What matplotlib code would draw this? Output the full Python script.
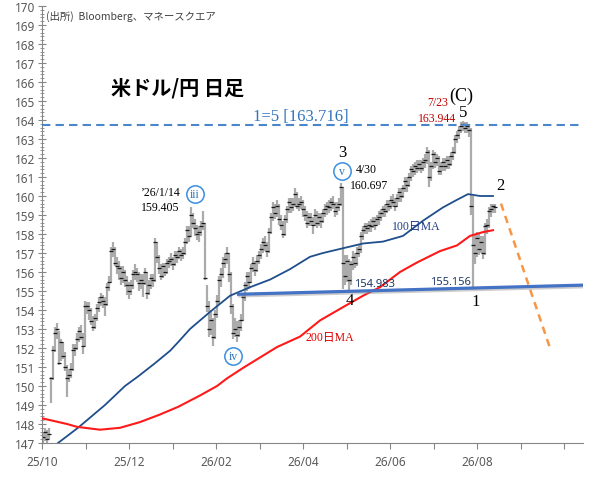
import numpy as np
import matplotlib
matplotlib.use('Agg')
import matplotlib.pyplot as plt
import matplotlib.patheffects as pe
from matplotlib.ticker import FixedLocator, MultipleLocator

# ---------------- data (daily bars, one per trading day) ----------------
close = [
147.3,147.6,147.2,147.5,150.4,151.9,152.8,153.0,151.2,152.3,
151.6,151.0,150.4,150.6,150.9,151.9,152.0,152.5,152.9,152.6,
152.1,154.2,154.2,154.0,153.4,153.1,153.6,154.1,154.4,154.7,
154.5,154.3,155.2,155.5,157.1,157.2,156.5,156.3,156.2,155.7,
156.0,155.6,155.3,155.0,155.3,155.9,156.0,155.9,155.4,155.6,
155.4,156.0,154.9,155.3,155.7,155.6,157.6,156.8,156.2,155.8,
156.3,156.0,156.5,156.6,156.7,156.4,156.9,156.8,157.1,156.9,
157.0,157.6,158.2,157.9,159.0,158.6,158.3,158.0,158.1,158.4,
158.6,155.7,154.2,153.0,153.5,152.6,153.8,154.5,155.6,155.9,
156.5,156.7,157.0,155.9,154.2,152.8,153.0,152.7,153.1,153.5,
154.7,155.3,155.8,155.5,156.2,156.5,156.1,156.6,156.9,157.2,
157.6,157.4,157.1,158.1,158.9,159.4,159.1,159.5,158.8,158.5,
158.0,158.8,159.3,159.7,159.4,159.6,160.1,159.5,159.6,159.7,
159.3,159.0,158.6,158.9,158.7,158.5,159.0,158.6,158.9,158.7,
159.1,159.3,159.5,159.4,159.7,159.6,159.2,159.4,159.6,160.5,
156.5,155.8,156.6,155.6,156.4,156.8,156.5,157.0,157.2,157.9,
158.2,158.4,158.3,158.5,158.4,158.7,158.5,158.8,158.9,159.1,
159.3,159.2,159.6,159.5,159.8,159.7,159.5,159.9,160.2,160.0,
160.4,160.8,160.6,161.0,161.4,161.3,161.6,161.5,161.7,161.5,
161.8,161.9,162.3,161.0,161.6,162.2,161.8,162.0,161.3,161.6,
161.8,161.6,161.9,161.7,162.1,162.3,163.0,163.2,163.5,163.7,
163.8,163.6,163.7,163.5,159.5,157.4,157.0,157.8,157.2,157.6,
157.0,158.4,158.5,159.2,159.3,159.5,159.4]

high = [
147.6,147.8,147.7,147.8,150.5,152.1,153.1,153.3,152.9,152.5,
152.3,151.8,151.1,150.9,151.2,152.2,152.2,152.8,153.1,153.2,
152.8,154.5,154.4,154.4,154.1,153.7,153.8,154.3,154.7,154.9,
154.8,154.7,155.4,155.8,157.3,157.6,157.3,156.8,156.6,156.3,
156.3,156.1,155.8,155.5,155.6,156.1,156.4,156.2,156.0,155.9,
155.9,156.2,156.0,155.6,155.9,155.9,157.8,157.6,156.9,156.4,
156.5,156.5,156.7,156.8,157.0,156.8,157.1,157.1,157.3,157.2,
157.3,157.8,158.4,158.4,159.405,159.1,158.8,158.5,158.4,158.7,
159.2,158.6,155.3,154.5,154.0,153.6,154.0,154.8,155.8,156.2,
156.8,157.0,157.3,157.0,156.0,154.3,153.6,153.4,153.5,153.8,
154.9,155.5,156.0,156.0,156.4,156.8,156.6,156.9,157.1,157.5,
157.8,157.9,157.6,158.3,159.1,159.7,159.6,159.8,159.6,159.0,
158.7,159.0,159.5,159.9,159.9,159.9,160.4,160.2,159.9,160.0,
159.8,159.5,159.2,159.1,159.1,158.9,159.3,159.2,159.1,159.1,
159.3,159.6,159.7,159.8,159.9,160.0,159.7,159.7,159.9,160.697,
160.5,156.9,156.9,156.7,156.6,157.1,157.0,157.3,157.5,158.1,
158.4,158.6,158.6,158.7,158.8,158.9,158.9,159.0,159.2,159.3,
159.5,159.6,159.8,159.8,160.0,160.1,159.9,160.1,160.4,160.4,
160.6,161.0,161.0,161.2,161.6,161.7,161.8,161.9,161.9,161.9,
162.0,162.2,162.6,162.4,161.8,162.4,162.3,162.2,162.1,161.8,
162.0,162.0,162.1,162.1,162.3,162.6,163.2,163.4,163.7,163.9,
163.944,163.9,163.9,163.8,163.6,160.0,158.0,158.1,158.0,157.9,
157.9,158.6,158.8,159.4,159.6,159.6,159.6]

low = [
147.0,147.1,147.0,147.2,149.1,150.3,151.8,152.5,151.1,151.3,
151.4,150.8,149.4,150.2,150.4,150.8,151.6,151.9,152.3,152.4,
151.7,152.1,153.8,153.5,153.2,152.9,153.0,153.4,153.9,154.2,
154.1,153.7,154.2,155.0,155.4,156.8,156.3,155.9,155.6,155.3,
155.4,155.2,154.8,154.6,154.8,155.1,155.6,155.5,155.0,155.1,
154.7,155.3,154.6,154.8,155.1,155.2,155.5,156.5,155.9,155.6,
155.7,155.8,155.9,156.2,156.3,156.1,156.3,156.5,156.7,156.6,
156.7,156.9,157.5,157.6,157.9,158.3,157.9,157.7,157.6,157.9,
158.2,155.6,153.9,152.6,152.7,152.1,152.5,153.6,154.3,155.2,
155.7,156.2,156.4,155.5,153.8,152.5,152.6,152.3,152.6,152.9,
153.4,154.5,155.0,155.1,155.4,156.0,155.8,156.0,156.4,156.7,
157.0,157.1,156.8,157.0,158.0,158.7,158.8,158.9,158.5,158.2,
157.8,157.9,158.6,159.1,159.1,159.2,159.4,159.3,159.2,159.3,
158.9,158.7,158.3,158.4,158.4,158.0,158.4,158.3,158.4,158.3,
158.6,158.9,159.0,159.1,159.2,159.3,158.9,159.0,159.2,159.5,
155.1,155.3,155.5,154.983,155.3,156.1,156.2,156.3,156.8,157.0,
157.7,158.0,158.0,158.1,158.1,158.3,158.2,158.4,158.5,158.7,
158.9,158.9,159.1,159.2,159.3,159.4,159.2,159.4,159.7,159.7,
159.9,160.2,160.2,160.5,160.8,161.0,161.1,161.2,161.3,161.2,
161.3,161.5,161.7,160.5,160.8,161.4,161.5,161.6,161.1,161.1,
161.3,161.3,161.4,161.4,161.6,161.9,162.2,162.8,163.0,163.3,
163.4,163.3,163.3,163.1,159.0,155.156,156.4,156.8,156.9,157.0,
156.7,156.9,158.0,158.3,158.9,159.1,159.1]

# moving averages (sampled along the bar index)
ma100_x = [-0.5, 7.5, 17.5, 31, 41, 47.5, 56, 63.5, 67.5, 73.5, 78.5, 83.5, 93.5,
           103.5, 113.5, 123.5, 133.5, 140, 150, 160, 170, 180, 190, 200, 207,
           212.5, 218.5, 225]
ma100 = [146.3, 147.0, 147.8, 149.0, 150.0, 150.5, 151.2, 151.85, 152.3, 153.0,
         153.45, 153.9, 154.75, 155.2, 155.6, 156.15, 156.8, 157.0, 157.25, 157.5,
         157.6, 157.9, 158.7, 159.4, 159.8, 160.1, 160.0, 160.0]
ma200_x = [-0.5, 12, 17, 28.5, 38.5, 48.5, 58.5, 67.5, 78.5, 87, 92, 100, 108.5,
           117, 128.5, 138.5, 150, 160, 168.5, 178.5, 187, 198.5, 207, 213.5, 220, 225]
ma200 = [148.3, 148.0, 147.85, 147.7, 147.8, 148.1, 148.5, 148.9, 149.5, 150.0,
         150.4, 150.95, 151.5, 152.05, 152.6, 153.45, 154.15, 154.75, 155.2, 156.0,
         156.5, 157.1, 157.4, 157.9, 158.1, 158.2]

month_labels = ['25/10', '', '25/12', '', '26/02', '', '26/04', '', '26/06', '',
                '26/08', '', '']
target_level = 163.716
wave4_idx, wave4_low = 153, 154.983
wave1_idx, wave1_low = 215, 155.156
proj_x = [229, 253.5]
proj_y = [159.6, 152.0]

# ---------------- figure ----------------
W, H = 604, 481
fig = plt.figure(figsize=(W / 100, H / 100), dpi=100)
ax = fig.add_axes([42 / W, 1 - 444 / H, 541 / W, 437 / H])

serif = ['Liberation Serif', 'Noto Sans CJK JP']
jp = ['Noto Sans CJK JP', 'DejaVu Sans']

c = np.array(close)
n = min(len(close), len(high), len(low))
c = c[:n]
hi = np.maximum(np.array(high[:n]), c)
lo = np.minimum(np.array(low[:n]), c)
idx = np.arange(n)

ax.vlines(idx, lo, hi, color='#ababab', lw=1.6, zorder=2)
ax.plot(idx, c, ls='none', marker='_', ms=2.6, mew=0.9, color='#1a1a1a', zorder=2.5)

ax.plot(ma100_x, ma100, color='#1f4e8c', lw=1.3, zorder=3)
ax.plot(ma200_x, ma200, color='#ff1a1a', lw=1.5, zorder=3)

# target dashed level
ax.axhline(target_level, color='#4a86c8', lw=1.5, dashes=(4, 2.5), zorder=3)

# support trendline through wave 4 and wave 1 lows
slope = (wave1_low - wave4_low) / (wave1_idx - wave4_idx)
sx = np.array([97, 270])
sy = wave4_low + slope * (sx - wave4_idx)
ax.plot(sx, sy, color='#4472c4', lw=2.3, solid_capstyle='butt', zorder=4,
        path_effects=[pe.SimpleLineShadow(offset=(0.6, -1.2), shadow_color='#909090', alpha=0.45),
                      pe.Normal()])

# projection
ax.plot(proj_x, proj_y, color='#f79646', lw=1.8, dashes=(3, 2.2), zorder=3)

# axes styling
ax.set_xlim(-0.5, 270)
ax.set_ylim(147, 170)
for s in ['top', 'right']:
    ax.spines[s].set_visible(False)
for s in ['left', 'bottom']:
    ax.spines[s].set_color('#868686')
    ax.spines[s].set_linewidth(0.8)

xt = [-0.5 + 21.75 * k for k in range(len(month_labels))]
ax.xaxis.set_major_locator(FixedLocator(xt))
ax.set_xticklabels(month_labels)
ax.yaxis.set_major_locator(MultipleLocator(1))
ax.yaxis.set_minor_locator(MultipleLocator(0.2))
ax.tick_params(axis='x', which='major', direction='out', length=4, width=0.8,
               color='#868686', labelsize=8.5, labelcolor='#595959', pad=5)
ax.tick_params(axis='y', which='major', direction='inout', length=6, width=0.8,
               color='#868686', labelsize=8.5, labelcolor='#595959', pad=2)
ax.tick_params(axis='y', which='minor', direction='inout', length=3, width=0.6,
               color='#868686')
for lab in ax.get_xticklabels() + ax.get_yticklabels():
    lab.set_family('Noto Sans')

# ---------------- annotations ----------------
ax.text(0.007, 0.99, '(出所)  Bloomberg、マネースクエア', transform=ax.transAxes,
        ha='left', va='top', fontsize=7.5, color='#404040', family=jp)
ax.text(67.5, 165.74, '米ドル/円 日足', ha='center', va='center', fontsize=14.5,
        fontweight='bold', family=jp, color='black')
ax.text(129, 164.2, '1=5 [163.716]', ha='center', va='center', fontsize=12,
        family=serif, color='#2f75c0')
ax.text(209, 165.3, '(C)', ha='center', va='center', fontsize=13, family=serif)
ax.text(210, 164.4, '5', ha='center', va='center', fontsize=12, family=serif)
ax.text(202.5, 164.95, '7/23', ha='right', va='center', fontsize=8.5, family=serif,
        color='#c00000')
ax.text(206.5, 164.12, '163.944', ha='right', va='center', fontsize=8.5, family=serif,
        color='#c00000')
ax.text(149.5, 162.3, '3', ha='center', va='center', fontsize=12, family=serif)
ax.text(156.5, 161.4, '4/30', ha='left', va='center', fontsize=8.5, family=serif)
ax.text(153.5, 160.6, '160.697', ha='left', va='center', fontsize=8.5, family=serif)
ax.text(69, 160.2, '’26/1/14', ha='right', va='center', fontsize=8.5, family=serif)
ax.text(58.5, 159.4, '159.405', ha='center', va='center', fontsize=8.5, family=serif)
ax.text(228.5, 160.6, '2', ha='center', va='center', fontsize=12, family=serif)
ax.text(186.5, 158.4, '100日MA', ha='center', va='center', fontsize=8.5, family=serif,
        color='#1f3c88')
ax.text(143.5, 152.6, '200日MA', ha='center', va='center', fontsize=8.5, family=serif,
        color='#e00000')
ax.text(166, 155.42, '154.983', ha='center', va='center', fontsize=8, family='Noto Sans',
        fontweight='bold', color='#1f3864')
ax.text(203.5, 155.52, '155.156', ha='center', va='center', fontsize=8, family='Noto Sans',
        fontweight='bold', color='#1f3864')
ax.text(153.5, 154.55, '4', ha='center', va='center', fontsize=12, family=serif)
ax.text(216.5, 154.45, '1', ha='center', va='center', fontsize=12, family=serif)

for (cx, cy, t) in [(76, 160.1, 'iii'), (149.5, 161.3, 'v'), (95, 151.6, 'iv')]:
    ax.plot([cx], [cy], marker='o', ms=12.5, mfc='white', mec='#3b8ede', mew=1.1,
            zorder=5)
    ax.text(cx, cy, t, ha='center', va='center', fontsize=8.5, family=serif,
            color='#2e75b6', zorder=6)

fig.savefig('out.png', dpi=100)
